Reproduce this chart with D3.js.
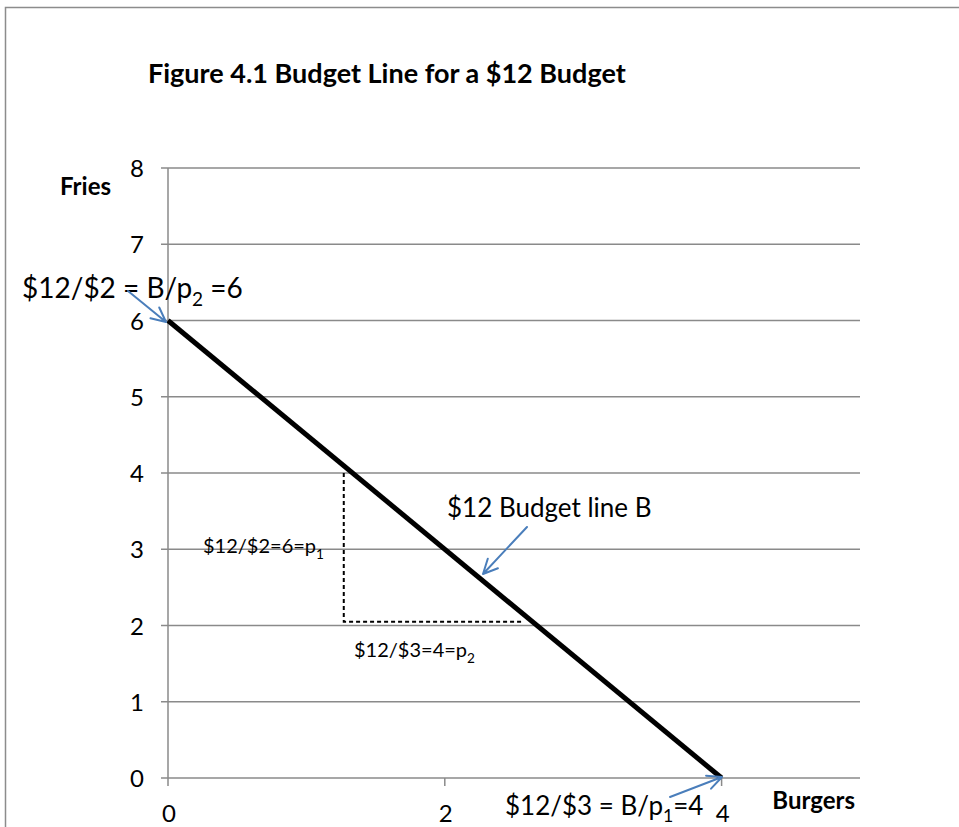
<!DOCTYPE html>
<html>
<head>
<meta charset="utf-8">
<script src="https://cdn.jsdelivr.net/npm/d3@7"></script>
<style>
  body { margin: 0; background: #fff; }
  svg text { font-family: Lato, "Open Sans", sans-serif; }
</style>
</head>
<body>
<script>
// budget line end points (burgers, fries)
const budgetLine = [[0, 6], [4, 0]];
// dashed slope triangle
const slopeLegs = [[1.27, 4.0], [1.27, 2.05], [2.56, 2.05]];
const xTicks = [0, 2, 4];
const yTicks = [0, 1, 2, 3, 4, 5, 6, 7, 8];

const W = 959, H = 827;
const svg = d3.select("body").append("svg")
    .attr("width", W)
    .attr("height", H);

// outer frame
svg.append("path")
    .attr("d", "M5.5,827 V7.5 H959")
    .attr("fill", "none")
    .attr("stroke", "#8c8c8c")
    .attr("stroke-width", 1.5);

x = d3.scaleLinear().domain([0, 5]).range([168, 860]);
y = d3.scaleLinear().domain([0, 8]).range([778, 168]);

// gridlines
svg.append("g")
    .selectAll("line")
    .data(yTicks)
    .join("line")
    .attr("x1", x(0) - 7)
    .attr("x2", x(5))
    .attr("y1", d => y(d))
    .attr("y2", d => y(d))
    .attr("stroke", "#8a8a8a")
    .attr("stroke-width", 1.5);

// y axis line
svg.append("line")
    .attr("x1", x(0)).attr("x2", x(0))
    .attr("y1", y(8)).attr("y2", y(0))
    .attr("stroke", "#8a8a8a")
    .attr("stroke-width", 1.5);

// x tick marks
svg.append("g")
    .selectAll("line")
    .data(xTicks)
    .join("line")
    .attr("x1", d => x(d)).attr("x2", d => x(d))
    .attr("y1", y(0)).attr("y2", y(0) + 8)
    .attr("stroke", "#8a8a8a")
    .attr("stroke-width", 1.5);

// tick labels
svg.append("g")
    .selectAll("text")
    .data(yTicks)
    .join("text")
    .attr("x", 144)
    .attr("y", d => y(d) + 9)
    .attr("text-anchor", "end")
    .attr("font-size", "24px")
    .text(d => d);

svg.append("g")
    .selectAll("text")
    .data(xTicks)
    .join("text")
    .attr("x", d => x(d) + 1)
    .attr("y", 822)
    .attr("text-anchor", "middle")
    .attr("font-size", "24px")
    .text(d => d);

// titles
svg.append("text")
    .attr("x", 148).attr("y", 83)
    .attr("font-size", "27px")
    .attr("font-weight", "bold")
    .text("Figure 4.1 Budget Line for a $12 Budget");

svg.append("text")
    .attr("x", 60).attr("y", 195)
    .attr("font-size", "24px")
    .attr("font-weight", "bold")
    .text("Fries");

svg.append("text")
    .attr("x", 855).attr("y", 809)
    .attr("text-anchor", "end")
    .attr("font-size", "24px")
    .attr("font-weight", "bold")
    .text("Burgers");

// dashed slope triangle
line = d3.line().x(d => x(d[0])).y(d => y(d[1]));
svg.append("path")
    .attr("d", line(slopeLegs))
    .attr("fill", "none")
    .attr("stroke", "black")
    .attr("stroke-width", 2)
    .attr("stroke-dasharray", "4,3");

// budget line
svg.append("path")
    .attr("d", line(budgetLine))
    .attr("fill", "none")
    .attr("stroke", "black")
    .attr("stroke-width", 5);

// arrow helper
arrow = function(x1, y1, x2, y2) {
    const a = Math.atan2(y2 - y1, x2 - x1);
    const L = 16, s = 0.45;
    svg.append("path")
        .attr("d", `M${x1},${y1} L${x2},${y2} M${x2 - L * Math.cos(a - s)},${y2 - L * Math.sin(a - s)} L${x2},${y2} L${x2 - L * Math.cos(a + s)},${y2 - L * Math.sin(a + s)}`)
        .attr("fill", "none")
        .attr("stroke", "#4a7ebb")
        .attr("stroke-width", 2)
        .attr("stroke-linecap", "round")
        .attr("stroke-linejoin", "round");
};

// annotation text with subscript
label = function(px, py, size, parts) {
    const t = svg.append("text")
        .attr("x", px).attr("y", py)
        .attr("font-size", size + "px");
    parts.forEach(p => {
        if (p.sub) {
            t.append("tspan").attr("dy", size * 0.28).attr("font-size", (size * 0.68) + "px").text(p.sub);
        } else {
            t.append("tspan").attr("dy", p.back ? -size * 0.28 : 0).text(p.t);
        }
    });
};

label(22, 298, 28, [{t: "$12/$2 = B/p"}, {sub: "2"}, {t: " =6", back: true}]);
arrow(128, 291, 166, 322);

label(447, 517, 26, [{t: "$12 Budget line B"}]);
arrow(527, 527, 483, 574);

label(203, 553, 20, [{t: "$12/$2=6=p"}, {sub: "1"}]);
label(354, 657, 20, [{t: "$12/$3=4=p"}, {sub: "2"}]);

label(505, 815, 26, [{t: "$12/$3 = B/p"}, {sub: "1"}, {t: "=4", back: true}]);
arrow(670, 797, 722, 777);
</script>
</body>
</html>
